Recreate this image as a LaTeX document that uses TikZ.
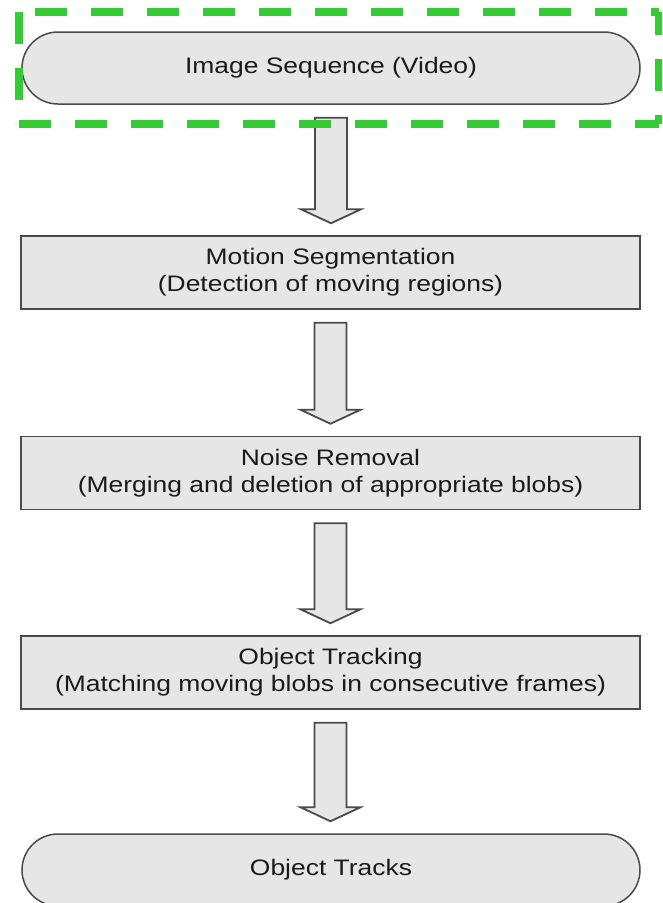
\documentclass[tikz,border=0pt]{standalone}
\usepackage{fontspec}
\setmainfont{Liberation Sans}[FakeStretch=1.18]
\usetikzlibrary{shapes.misc,calc}

\definecolor{boxfill}{HTML}{E6E6E6}
\definecolor{boxline}{HTML}{4A4A4A}
\definecolor{textcol}{HTML}{1A1A1A}
\definecolor{hilite}{HTML}{33CC33}

\tikzset{
  base/.style={draw=boxline, line width=1.5pt, fill=boxfill, text=textcol,
    inner sep=0pt, align=center, font=\fontsize{22.4}{27}\selectfont},
  terminal/.style={base, rounded rectangle, minimum width=618pt, minimum height=72pt},
  process/.style={base, rectangle, minimum width=619pt, minimum height=73pt},
  blockarrow/.style={draw=boxline, line width=1.8pt, fill=boxfill, line join=miter},
  hiliteline/.style={draw=hilite, line width=8pt, line cap=butt}
}

% hollow block arrow from the bottom of #1 to the top of #2
\newcommand\flowarrow[2]{%
  \path[blockarrow] let \p1=($(#1.south)+(0,13)$), \p2=($(#2.north)+(0,-12)$) in
    (\x1-16pt,\y1) -- (\x1+16pt,\y1) -- (\x1+16pt,\y2+14pt) -- (\x1+30pt,\y2+14pt)
    -- (\x1,\y2) -- (\x1-30pt,\y2+14pt) -- (\x1-16pt,\y2+14pt) -- cycle;}

\begin{document}
\begin{tikzpicture}[x=1pt,y=-1pt]
  \fill[white] (0,0) rectangle (662,903);
  \useasboundingbox (0,0) rectangle (662,903);
  \begin{scope}
  \clip (0,0) rectangle (662,903);

  \node[terminal] (video) at (331,68) {Image Sequence (Video)};
  \node[process] (motion) at (330.5,272.5) {Motion Segmentation\\(Detection of moving regions)};
  \node[process] (noise) at (330.5,473) {Noise Removal\\(Merging and deletion of appropriate blobs)};
  \node[process] (tracking) at (330.5,672.5) {Object Tracking\\(Matching moving blobs in consecutive frames)};
  \node[terminal] (tracks) at (331,870) {Object Tracks};

  \flowarrow{video}{motion}
  \flowarrow{motion}{noise}
  \flowarrow{noise}{tracking}
  \flowarrow{tracking}{tracks}

  % dashed frame around the input stage
  \coordinate (f1) at (19,12);
  \coordinate (f2) at (659,12);
  \coordinate (f3) at (659,124);
  \coordinate (f4) at (19,124);
  \draw[hiliteline, dash pattern=on 32pt off 24pt, dash phase=40pt] (f1) -- (f2);
  \draw[hiliteline, dash pattern=on 32pt off 24pt] (f1) -- (f4);
  \draw[hiliteline, dash pattern=on 32pt off 24pt] (f4) -- (f3);
  \draw[hiliteline, dash pattern=on 32pt off 24pt, dash phase=9pt] (f2) -- (f3);
  \end{scope}
\end{tikzpicture}
\end{document}
